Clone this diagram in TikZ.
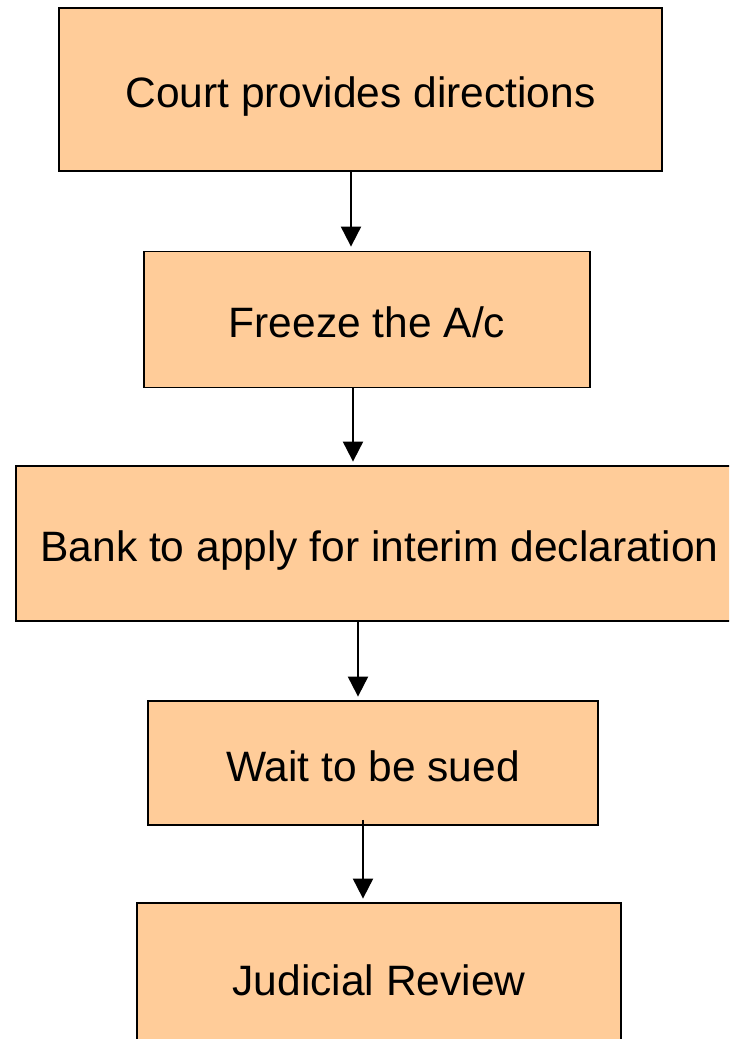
\documentclass[tikz,border=0pt]{standalone}
\usepackage{fontspec}
\setmainfont{Liberation Sans}
\usetikzlibrary{arrows.meta}
\definecolor{peach}{HTML}{FFCC99}
\begin{document}
\begin{tikzpicture}[x=1pt,y=-1pt,
  flowbox/.style={rectangle, draw=black, line width=1.8pt, fill=peach, inner sep=0pt,
    font=\fontsize{42.5}{50}\selectfont, text height=36.4pt, text depth=0pt, align=center},
  arr/.style={line width=2pt, -{Triangle[length=20pt,width=20pt]}}]
\clip (0,0) rectangle (729,1039);
\fill[white] (0,0) rectangle (729,1039);
\node[flowbox, minimum width=603pt, minimum height=163pt] (n1) at (360.5,89.5) {Court provides directions};
\node[flowbox, minimum width=446pt, minimum height=136pt] (n2) at (367,319.5) {Freeze the A/c};
\node[flowbox, minimum width=727pt, minimum height=155pt] (n3) at (379.5,543.5) {Bank to apply for interim declaration};
\node[flowbox, minimum width=450pt, minimum height=124pt] (n4) at (373,763) {Wait to be sued};
\node[flowbox, minimum width=484pt, minimum height=148pt] (n5) at (379,977) {Judicial Review};
\coordinate (x1) at (351,0);
\coordinate (x2) at (353,0);
\coordinate (x3) at (358,0);
\coordinate (x4) at (363,0);
\draw[arr, shorten >=4pt] (n1.south -| x1) -- (n2.north -| x1);
\draw[arr, shorten >=3.5pt] (n2.south -| x2) -- (n3.north -| x2);
\draw[arr, shorten >=3.5pt] (n3.south -| x3) -- (n4.north -| x3);
\draw[arr, shorten <=-6pt, shorten >=3.5pt] (n4.south -| x4) -- (n5.north -| x4);
\end{tikzpicture}
\end{document}
